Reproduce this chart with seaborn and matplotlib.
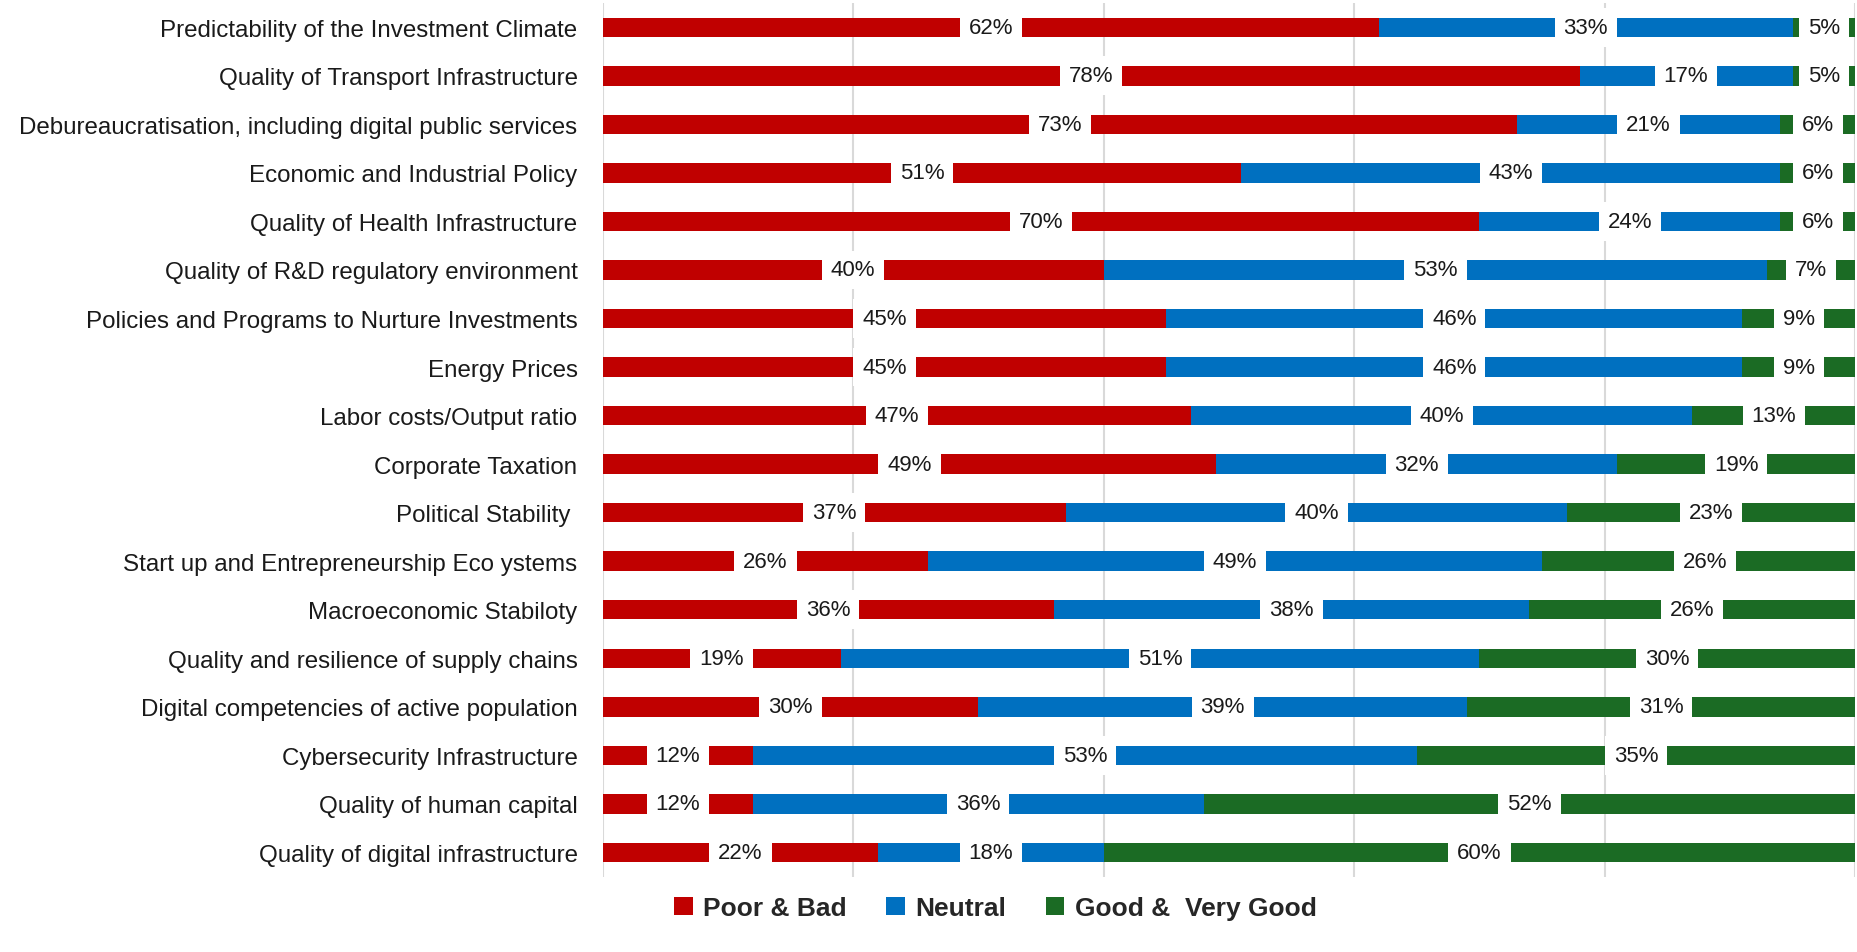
import matplotlib
matplotlib.use("Agg")
import numpy as np
import pandas as pd
import matplotlib.pyplot as plt
import seaborn as sns
from matplotlib.patches import Patch

categories = [
    "Predictability of the Investment Climate",
    "Quality of Transport Infrastructure",
    "Debureaucratisation, including digital public services",
    "Economic and Industrial Policy",
    "Quality of Health Infrastructure",
    "Quality of R&D regulatory environment",
    "Policies and Programs to Nurture Investments",
    "Energy Prices",
    "Labor costs/Output ratio",
    "Corporate Taxation",
    "Political Stability ",
    "Start up and Entrepreneurship Eco ystems",
    "Macroeconomic Stabiloty",
    "Quality and resilience of supply chains",
    "Digital competencies of active population",
    "Cybersecurity Infrastructure",
    "Quality of human capital",
    "Quality of digital infrastructure",
]
poor_bad = [62, 78, 73, 51, 70, 40, 45, 45, 47, 49, 37, 26, 36, 19, 30, 12, 12, 22]
neutral = [33, 17, 21, 43, 24, 53, 46, 46, 40, 32, 40, 49, 38, 51, 39, 53, 36, 18]
good = [5, 5, 6, 6, 6, 7, 9, 9, 13, 19, 23, 26, 26, 30, 31, 35, 52, 60]

series_names = ["Poor & Bad", "Neutral", "Good &  Very Good"]
colors = ["#C00000", "#0070C0", "#1B6B24"]

df = pd.DataFrame({"category": categories, "poor": poor_bad,
                   "neutral": neutral, "good": good})
df["cum1"] = df["poor"]
df["cum2"] = df["poor"] + df["neutral"]
df["cum3"] = df["cum2"] + df["good"]

sns.set_theme(style="white")
plt.rcParams["font.family"] = ["Liberation Sans", "DejaVu Sans"]

fig = plt.figure(figsize=(18.57, 9.53), dpi=100)
ax = fig.add_axes([0.3245, 0.079, 0.6745, 0.9168])

# stacked look: draw the cumulative totals from the longest to the shortest
for col, color in zip(["cum3", "cum2", "cum1"], colors[::-1]):
    sns.barplot(data=df, y="category", x=col, orient="h", color=color,
                width=0.40, saturation=1, edgecolor="none", ax=ax)

# segment labels
for seg_col, cum_col in [("poor", "cum1"), ("neutral", "cum2"), ("good", "cum3")]:
    for i, (v, c) in enumerate(zip(df[seg_col], df[cum_col])):
        ax.text(c - v / 2, i, f"{v}%", ha="center", va="center",
                fontsize=16, color="#1a1a1a",
                bbox=dict(boxstyle="square,pad=0.4", fc="white", ec="none"),
                zorder=5, clip_on=True)

ax.set_xlim(0, 100)
ax.set_ylim(17.5, -0.5)
ax.set_xticks(np.arange(0, 101, 20))
ax.set_xticklabels([])
ax.xaxis.grid(True, color="#D9D9D9", linewidth=1.5)
ax.set_axisbelow(True)
for s in ax.spines.values():
    s.set_visible(False)
ax.set_xlabel("")
ax.set_ylabel("")
ax.tick_params(axis="y", length=0, pad=18, labelsize=17.4, labelcolor="#1a1a1a")
ax.tick_params(axis="x", length=0)

handles = [Patch(facecolor=c, edgecolor="none", label=n) for c, n in zip(colors, series_names)]
fig.legend(handles=handles, loc="center", bbox_to_anchor=(0.536, 0.046), ncol=3,
           frameon=False, handlelength=0.7, handleheight=0.7, handletextpad=0.4,
           columnspacing=1.5, prop={"size": 19, "weight": "bold"})

fig.savefig("out.png", dpi=100)
